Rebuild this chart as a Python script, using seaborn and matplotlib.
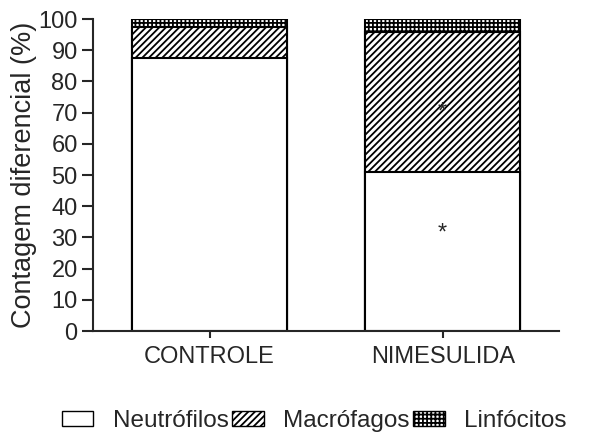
import matplotlib
matplotlib.use("Agg")
import matplotlib.pyplot as plt
import seaborn as sns
import pandas as pd
from matplotlib.patches import Patch

groups = ["CONTROLE", "NIMESULIDA"]
neutrofilos = [87.4, 51.0]
macrofagos = [10.1, 44.8]
linfocitos = [2.5, 4.2]
series_names = ["Neutrófilos", "Macrófagos", "Linfócitos"]
star_positions = [33, 71.5]

sns.set_style("ticks")
plt.rcParams['font.family'] = ['Liberation Sans', 'DejaVu Sans']
plt.rcParams['hatch.linewidth'] = 1.3
plt.rcParams['hatch.color'] = 'black'

HATCH_M = "/////"
HATCH_L = "++++"

fig = plt.figure(figsize=(6.02, 4.34), dpi=100)
ax = fig.add_axes([0.1545, 0.2373, 0.7745, 0.7187])

cum_n = neutrofilos
cum_m = [a + b for a, b in zip(neutrofilos, macrofagos)]
cum_l = [a + b + c for a, b, c in zip(neutrofilos, macrofagos, linfocitos)]

layers = [(cum_l, HATCH_L, series_names[2]),
          (cum_m, HATCH_M, series_names[1]),
          (cum_n, "", series_names[0])]
for vals, hatch, name in layers:
    df = pd.DataFrame({"grupo": groups, "valor": vals})
    sns.barplot(data=df, x="grupo", y="valor", ax=ax, color="white",
                edgecolor="black", linewidth=1.5, width=0.665, hatch=hatch,
                errorbar=None, saturation=1)

for p in ax.patches:
    p.set_facecolor("white")

for y in star_positions:
    ax.annotate("*", xy=(1, y), xytext=(0, -5), textcoords="offset pixels",
                ha="center", va="center", fontsize=17)

ax.set_xlim(-0.5, 1.5)
ax.set_ylim(0, 100)
ax.set_yticks(range(0, 101, 10))
ax.set_xlabel("")
ax.set_ylabel("Contagem diferencial (%)", fontsize=19.5, labelpad=1)
ax.tick_params(axis='y', length=8, width=1.5, labelsize=17, pad=3)
ax.tick_params(axis='x', length=5, width=1.5, labelsize=17, pad=6)
for s in ["left", "bottom"]:
    ax.spines[s].set_linewidth(1.5)
sns.despine(ax=ax)

handles = [Patch(facecolor="white", edgecolor="black", hatch=h, label=n)
           for h, n in [("", series_names[0]), (HATCH_M, series_names[1]), (HATCH_L, series_names[2])]]
fig.legend(handles=handles, loc="center", bbox_to_anchor=(0.522, 0.03), ncol=3,
           frameon=False, fontsize=17.5, handlelength=1.3, handleheight=0.55,
           columnspacing=0.15, handletextpad=0.8)

fig.savefig("out.png", dpi=100)
